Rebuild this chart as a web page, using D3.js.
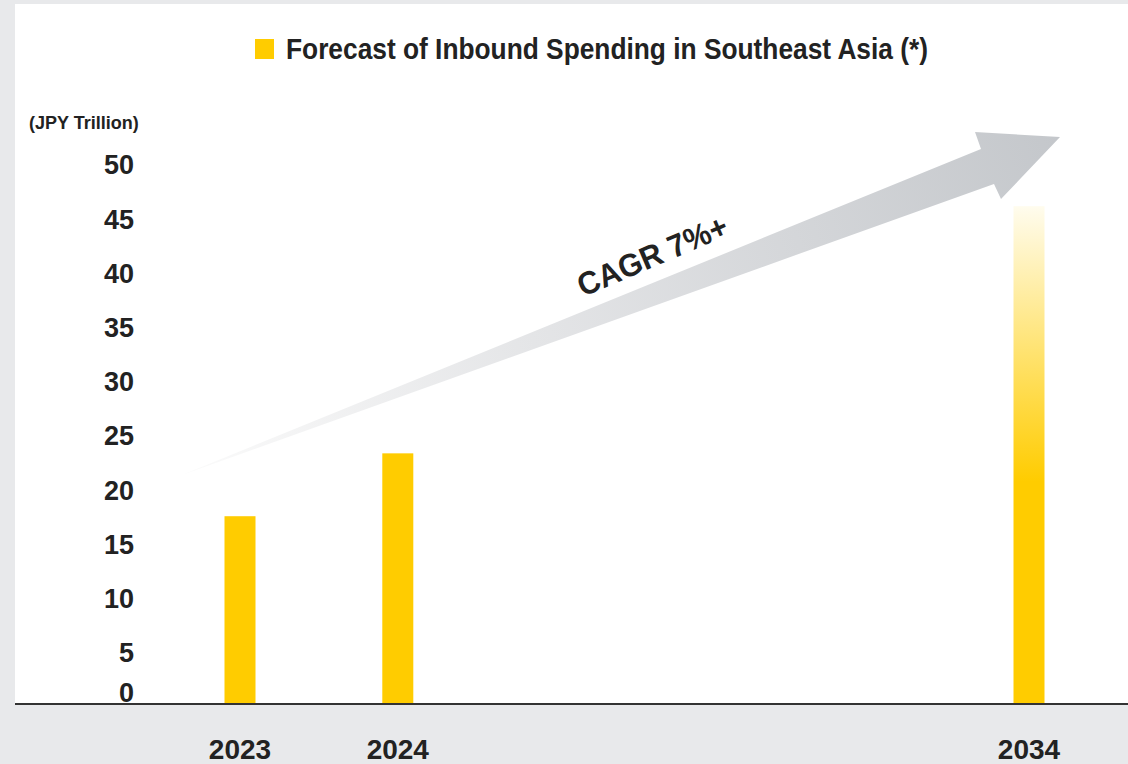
<!DOCTYPE html>
<html>
<head>
<meta charset="utf-8">
<script src="https://cdn.jsdelivr.net/npm/d3@7"></script>
<style>
  html, body { margin: 0; padding: 0; background: #e8e9eb; }
  svg { display: block; }
  text { font-family: "Liberation Sans", Arial, sans-serif; font-weight: bold; fill: #222; }
</style>
</head>
<body>
<div id="chart"></div>
<script>
// data
var years = ["2023", "2024", "2034"];
var spending = [17.6, 23.4, 46.2];
// the year axis has a break between 2024 and 2034, kept as empty slots
var xSlots = ["2023", "2024", "gap1", "gap2", "gap3", "2034"];
var yTicks = [0, 5, 10, 15, 20, 25, 30, 35, 40, 45, 50];
var titleText = "Forecast of Inbound Spending in Southeast Asia (*)";
var unitText = "(JPY Trillion)";
var cagrText = "CAGR 7%+";

var width = 1128, height = 764;
var baseY = 704;

var svg = d3.select("#chart")
    .append("svg")
        .attr("width", width)
        .attr("height", height);

var defs = svg.append("defs");

// white panel on grey page
svg.append("rect")
    .attr("x", 0).attr("y", 0)
    .attr("width", width).attr("height", height)
    .attr("fill", "#e8e9eb");
svg.append("rect")
    .attr("x", 15).attr("y", 4)
    .attr("width", width - 15).attr("height", baseY - 4)
    .attr("fill", "#fff");

var x = d3.scalePoint()
    .domain(xSlots)
    .range([240, 1029]);

var y = d3.scaleLinear()
    .domain([0, 50])
    .range([707, 165]);

var barW = 31;

// fading fill for the forecast bar
var fade = defs.append("linearGradient")
    .attr("id", "fade")
    .attr("x1", 0).attr("y1", 0).attr("x2", 0).attr("y2", 1);
fade.append("stop").attr("offset", "0%").attr("stop-color", "#fffcee");
fade.append("stop").attr("offset", "22%").attr("stop-color", "#ffe98f");
fade.append("stop").attr("offset", "55%").attr("stop-color", "#ffcc00");
fade.append("stop").attr("offset", "100%").attr("stop-color", "#ffcc00");

// growth arrow
var arrowStart = [182, 475], arrowTip = [1060, 137];
var arrowGrad = defs.append("linearGradient")
    .attr("id", "arrowGrad")
    .attr("gradientUnits", "userSpaceOnUse")
    .attr("x1", arrowStart[0]).attr("y1", arrowStart[1])
    .attr("x2", arrowTip[0]).attr("y2", arrowTip[1]);
arrowGrad.append("stop").attr("offset", "0%").attr("stop-color", "#fbfbfb");
arrowGrad.append("stop").attr("offset", "40%").attr("stop-color", "#e4e5e7");
arrowGrad.append("stop").attr("offset", "100%").attr("stop-color", "#c4c7cb");

var arrowPts = [
    arrowStart,
    [981, 149],
    [975, 132],
    arrowTip,
    [1001, 199],
    [994, 184]
];
svg.append("path")
    .attr("d", d3.line()(arrowPts) + "Z")
    .attr("fill", "url(#arrowGrad)");

svg.append("text")
    .attr("transform", "translate(583,297) rotate(-23)")
    .attr("textLength", 160)
    .attr("lengthAdjust", "spacingAndGlyphs")
    .style("font-size", "32px")
    .text(cagrText);

// bars
svg.selectAll(".bar")
    .data(years)
    .enter()
    .append("rect")
    .attr("class", "bar")
    .attr("x", function(d) { return x(d) - barW / 2; })
    .attr("y", function(d, i) { return y(spending[i]); })
    .attr("width", barW)
    .attr("height", function(d, i) { return y(0) - y(spending[i]); })
    .attr("fill", function(d, i) { return i == years.length - 1 ? "url(#fade)" : "#ffcc00"; });

// grey strip under the axis line
svg.append("rect")
    .attr("x", 0).attr("y", baseY + 1)
    .attr("width", width).attr("height", height - baseY)
    .attr("fill", "#e8e9eb");
svg.append("line")
    .attr("x1", 15).attr("x2", width)
    .attr("y1", baseY).attr("y2", baseY)
    .attr("stroke", "#333")
    .attr("stroke-width", 2);

// y labels
svg.selectAll(".ylab")
    .data(yTicks)
    .enter()
    .append("text")
    .attr("class", "ylab")
    .attr("x", 134)
    .attr("y", function(d) { return d == 0 ? y(0) - 5 : y(d); })
    .attr("dy", function(d) { return d == 0 ? 0 : "0.35em"; })
    .attr("text-anchor", "end")
    .style("font-size", "27px")
    .text(function(d) { return d; });

svg.append("text")
    .attr("x", 29).attr("y", 129)
    .style("font-size", "18px")
    .text(unitText);

// year labels
svg.selectAll(".xlab")
    .data(years)
    .enter()
    .append("text")
    .attr("class", "xlab")
    .attr("x", function(d) { return x(d); })
    .attr("y", 759)
    .attr("text-anchor", "middle")
    .style("font-size", "28px")
    .text(function(d) { return d; });

// title with legend square; squeezed to mimic the condensed face
svg.append("rect")
    .attr("x", 255).attr("y", 39)
    .attr("width", 19).attr("height", 20)
    .attr("fill", "#ffcc00");
svg.append("text")
    .attr("x", 286).attr("y", 59)
    .attr("textLength", 642)
    .attr("lengthAdjust", "spacingAndGlyphs")
    .style("font-size", "30px")
    .text(titleText);
</script>
</body>
</html>
